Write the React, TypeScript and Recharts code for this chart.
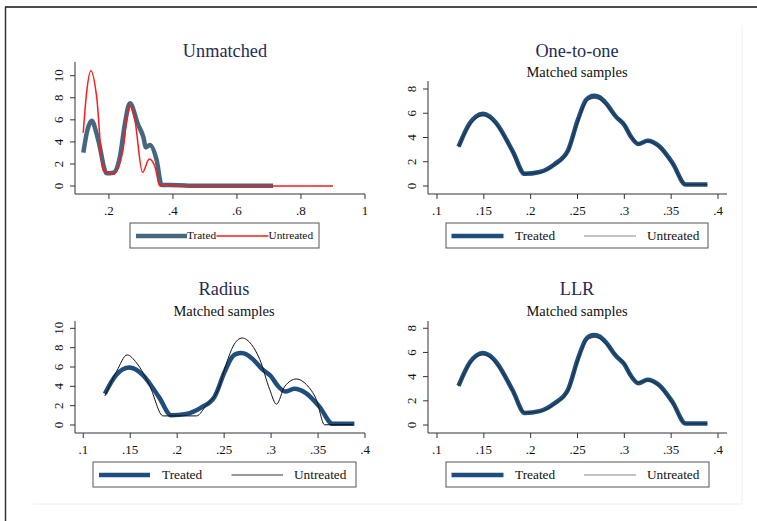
import { LineChart, Line, XAxis, YAxis } from 'recharts';

const FONT = '"Liberation Serif", "Times New Roman", serif';

// Unmatched sample densities
const unmTreatedX = [0.12, 0.133, 0.146, 0.1666, 0.1928, 0.2134, 0.2344, 0.25, 0.2656, 0.2916, 0.3072, 0.3156, 0.328, 0.349, 0.3647, 0.39, 0.45, 0.713];
const unmTreatedY = [3.02, 5.1, 5.92, 4.17, 1.15, 1.2, 2.66, 5.68, 7.5, 5.53, 4.47, 3.5, 3.72, 2.36, 0.09, 0.1, 0.03, 0.03];
const unmUntreatedX = [0.1197, 0.13, 0.1438, 0.1616, 0.182, 0.2134, 0.2447, 0.2553, 0.2656, 0.281, 0.305, 0.326, 0.3438, 0.359, 0.37, 0.42, 0.9];
const unmUntreatedY = [4.83, 8.4, 10.45, 8.1, 1.45, 1.09, 3.42, 5.98, 7.4, 5.98, 1.24, 2.45, 1.75, 0.0, 0.09, 0.0, 0.0];

// Matched samples (treated is the same in all three matched panels)
const matchedX = [0.123, 0.135, 0.142, 0.149, 0.156, 0.1635, 0.181, 0.1936, 0.2096, 0.2255, 0.2397, 0.2503, 0.259, 0.263, 0.268, 0.274, 0.2805, 0.291, 0.3, 0.307, 0.315, 0.3248, 0.337, 0.3514, 0.3656, 0.3887];
const treatedY = [3.24, 5.17, 5.75, 5.95, 5.75, 5.17, 2.83, 1.0, 1.15, 1.8, 2.9, 5.44, 7.09, 7.35, 7.45, 7.3, 6.82, 5.72, 5.03, 4.07, 3.46, 3.74, 3.3, 1.9, 0.12, 0.12];
const oneToOneUntreatedY = [3.2, 5.05, 5.6, 5.78, 5.6, 5.07, 2.8, 1.02, 1.12, 1.75, 2.85, 5.3, 6.9, 7.15, 7.22, 7.12, 6.7, 5.75, 5.1, 4.12, 3.5, 3.7, 3.25, 1.85, 0.1, 0.1];
const llrUntreatedY = [3.2, 5.07, 5.62, 5.8, 5.62, 5.08, 2.8, 1.02, 1.12, 1.75, 2.86, 5.32, 6.92, 7.15, 7.24, 7.14, 6.72, 5.75, 5.08, 4.1, 3.5, 3.68, 3.25, 1.85, 0.1, 0.1];
const radiusUntreatedX = [0.123, 0.1355, 0.1468, 0.1568, 0.171, 0.185, 0.2206, 0.2313, 0.2436, 0.2526, 0.2596, 0.2692, 0.2791, 0.288, 0.2986, 0.3057, 0.3146, 0.327, 0.3377, 0.3483, 0.357, 0.387];
const radiusUntreatedY = [3.0, 5.55, 7.25, 6.42, 4.0, 0.94, 0.94, 2.08, 3.65, 6.42, 8.16, 9.0, 8.33, 6.77, 3.65, 2.15, 4.0, 4.76, 4.17, 2.6, 0.02, 0.05];

const unmXTicks = [0.2, 0.4, 0.6, 0.8, 1];
const matchedXTicks = [0.1, 0.15, 0.2, 0.25, 0.3, 0.35, 0.4];
const yTicks10 = [0, 2, 4, 6, 8, 10];
const yTicks8 = [0, 2, 4, 6, 8];

const toPoints = (xs: number[], ys: number[]) => xs.map((x, i) => ({ x, y: ys[i] }));
const fmt = (v: number) => (v > 0 && v < 1 ? String(v).replace(/^0/, '') : String(v));

const YTick = (props: any) => {
  const { x, y, payload } = props;
  return (
    <text x={x} y={y} transform={`rotate(-90 ${x} ${y})`} textAnchor="middle" fontSize={13} fontFamily={FONT} fill="#111">
      {payload.value}
    </text>
  );
};

interface PanelProps {
  left: number;
  top: number;
  width: number;
  height: number;
  plot: { l: number; r: number; t: number; b: number };
  xDomain: [number, number];
  yDomain: [number, number];
  xTicks: number[];
  yTicks: number[];
  treated: { x: number; y: number }[];
  untreated: { x: number; y: number }[];
  treatedColor: string;
  untreatedColor: string;
  untreatedWidth: number;
}

function Panel(p: PanelProps) {
  const yW = 40;
  const xH = 30;
  return (
    <div style={{ position: 'absolute', left: p.left, top: p.top }}>
      <LineChart
        width={p.width}
        height={p.height}
        margin={{ top: p.plot.t, right: p.width - p.plot.r, bottom: p.height - p.plot.b - xH, left: p.plot.l - yW }}
      >
        <XAxis
          dataKey="x"
          type="number"
          domain={p.xDomain}
          ticks={p.xTicks}
          interval={0}
          allowDataOverflow
          tickFormatter={fmt}
          height={xH}
          tickSize={5}
          tickMargin={7}
          stroke="#333"
          tick={{ fontSize: 13, fontFamily: FONT, fill: '#111' }}
        />
        <YAxis
          dataKey="y"
          type="number"
          domain={p.yDomain}
          ticks={p.yTicks}
          interval={0}
          allowDataOverflow
          width={yW}
          tickSize={5}
          tickMargin={7}
          stroke="#333"
          tick={<YTick />}
        />
        <Line
          data={p.treated}
          dataKey="y"
          type="monotone"
          stroke={p.treatedColor}
          strokeWidth={4.5}
          dot={false}
          strokeLinejoin="round"
          isAnimationActive={false}
        />
        <Line
          data={p.untreated}
          dataKey="y"
          type="monotone"
          stroke={p.untreatedColor}
          strokeWidth={p.untreatedWidth}
          dot={false}
          isAnimationActive={false}
        />
      </LineChart>
    </div>
  );
}

const UNM_BLUE = '#46677f';
const NAVY = '#1f4e7c';

function LegendBox(props: {
  x: number; y: number; w: number; h: number; fontSize: number;
  l1: [number, number]; t1: number; l2: [number, number]; t2: number;
  c1: string; c2: string; w2: number; label1: string;
}) {
  const ly = props.y + props.h / 2 + 0.5;
  const base = props.y + props.h / 2 + props.fontSize * 0.33;
  return (
    <g>
      <rect x={props.x} y={props.y} width={props.w} height={props.h} fill="#fff" stroke="#555" strokeWidth={1} />
      <line x1={props.l1[0]} x2={props.l1[1]} y1={ly} y2={ly} stroke={props.c1} strokeWidth={4.5} />
      <text x={props.t1} y={base} fontSize={props.fontSize} fontFamily={FONT} fill="#111">{props.label1}</text>
      <line x1={props.l2[0]} x2={props.l2[1]} y1={ly} y2={ly} stroke={props.c2} strokeWidth={props.w2} />
      <text x={props.t2} y={base} fontSize={props.fontSize} fontFamily={FONT} fill="#111">Untreated</text>
    </g>
  );
}

export default function App() {
  const matchedTreated = toPoints(matchedX, treatedY);
  const titleStyle = { fontSize: 18.3, fontFamily: FONT, fill: '#1f2b55' };
  const subStyle = { fontSize: 14.5, fontFamily: FONT, fill: '#111' };

  return (
    <div style={{ position: 'absolute', left: 0, top: 0, width: 757, height: 521, background: '#fff', overflow: 'hidden' }}>
      <Panel
        left={0} top={0} width={380} height={260}
        plot={{ l: 75, r: 365, t: 62, b: 194 }}
        xDomain={[0.094, 1]} yDomain={[-0.72, 11.24]}
        xTicks={unmXTicks} yTicks={yTicks10}
        treated={toPoints(unmTreatedX, unmTreatedY)}
        untreated={toPoints(unmUntreatedX, unmUntreatedY)}
        treatedColor={UNM_BLUE} untreatedColor="#ff1a1a" untreatedWidth={1.5}
      />
      <Panel
        left={380} top={0} width={377} height={260}
        plot={{ l: 48, r: 347, t: 81, b: 194 }}
        xDomain={[0.0904, 0.4096]} yDomain={[-0.66, 8.66]}
        xTicks={matchedXTicks} yTicks={yTicks8}
        treated={matchedTreated}
        untreated={toPoints(matchedX, oneToOneUntreatedY)}
        treatedColor={NAVY} untreatedColor="#222" untreatedWidth={0.8}
      />
      <Panel
        left={0} top={260} width={380} height={261}
        plot={{ l: 75, r: 365, t: 61, b: 173 }}
        xDomain={[0.0912, 0.4]} yDomain={[-0.83, 10.76]}
        xTicks={matchedXTicks} yTicks={yTicks10}
        treated={matchedTreated}
        untreated={toPoints(radiusUntreatedX, radiusUntreatedY)}
        treatedColor={NAVY} untreatedColor="#111" untreatedWidth={1}
      />
      <Panel
        left={380} top={260} width={377} height={261}
        plot={{ l: 48, r: 347, t: 61, b: 173 }}
        xDomain={[0.0904, 0.4096]} yDomain={[-0.66, 8.6]}
        xTicks={matchedXTicks} yTicks={yTicks8}
        treated={matchedTreated}
        untreated={toPoints(matchedX, llrUntreatedY)}
        treatedColor={NAVY} untreatedColor="#222" untreatedWidth={0.8}
      />
      <svg width={757} height={521} style={{ position: 'absolute', left: 0, top: 0, pointerEvents: 'none' }}>
        {/* outer frame */}
        <line x1={5} x2={757} y1={7} y2={7} stroke="#111" strokeWidth={1.5} />
        <line x1={5.5} x2={5.5} y1={7} y2={521} stroke="#333" strokeWidth={1.5} />
        <line x1={742} x2={742} y1={25} y2={504} stroke="#eeeeee" strokeWidth={1} />
        <line x1={33} x2={742} y1={504} y2={504} stroke="#eeeeee" strokeWidth={1} />

        {/* titles */}
        <text x={225} y={56.5} textAnchor="middle" {...titleStyle}>Unmatched</text>
        <text x={577} y={56.5} textAnchor="middle" {...titleStyle}>One-to-one</text>
        <text x={577} y={76.5} textAnchor="middle" {...subStyle}>Matched samples</text>
        <text x={224} y={295} textAnchor="middle" {...titleStyle}>Radius</text>
        <text x={224} y={315.5} textAnchor="middle" {...subStyle}>Matched samples</text>
        <text x={577} y={295} textAnchor="middle" {...titleStyle}>LLR</text>
        <text x={577} y={315.5} textAnchor="middle" {...subStyle}>Matched samples</text>

        {/* legends */}
        <LegendBox x={130} y={223} w={189} h={25} fontSize={11.3}
          l1={[136, 187]} t1={187} l2={[216.5, 268.5]} t2={268.5}
          c1={UNM_BLUE} c2="#ff1a1a" w2={1.5} label1="Trated" />
        <LegendBox x={446} y={223} w={262} h={25} fontSize={13.3}
          l1={[451.5, 503.5]} t1={515} l2={[584, 636]} t2={647}
          c1={NAVY} c2="#888" w2={1.2} label1="Treated" />
        <LegendBox x={93} y={462} w={263} h={25} fontSize={13.3}
          l1={[99, 150]} t1={162} l2={[231.5, 283]} t2={294}
          c1={NAVY} c2="#333" w2={1} label1="Treated" />
        <LegendBox x={446} y={462} w={263} h={25} fontSize={13.3}
          l1={[451.5, 503.5]} t1={515} l2={[584, 636]} t2={647}
          c1={NAVY} c2="#888" w2={1.2} label1="Treated" />
      </svg>
    </div>
  );
}
